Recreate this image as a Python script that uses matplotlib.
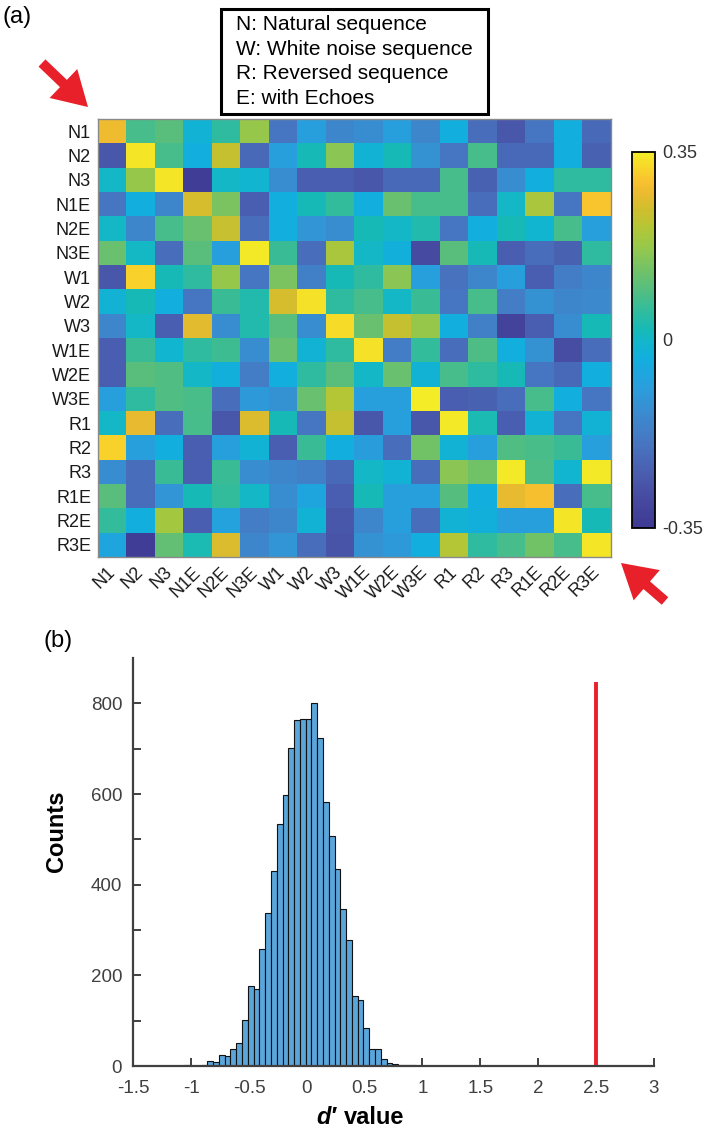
import numpy as np
import matplotlib
matplotlib.use("Agg")
import matplotlib.pyplot as plt
from matplotlib.colors import LinearSegmentedColormap
from matplotlib.patches import Rectangle, FancyArrow

plt.rcParams['font.family'] = ['Liberation Sans', 'DejaVu Sans']

# ---------------- data: correlation matrix (a) ----------------
labels = ["N1", "N2", "N3", "N1E", "N2E", "N3E", "W1", "W2", "W3",
          "W1E", "W2E", "W3E", "R1", "R2", "R3", "R1E", "R2E", "R3E"]

row_N1  = [0.28, 0.077, 0.10, -0.02, 0.05, 0.175, -0.19, -0.085, -0.15, -0.13, -0.085, -0.15, -0.035, -0.21, -0.26, -0.19, -0.035, -0.22]
row_N2  = [-0.26, 0.34, 0.077, -0.035, 0.23, -0.22, -0.085, 0.02, 0.16, -0.02, 0.02, -0.12, -0.19, 0.077, -0.22, -0.22, -0.035, -0.24]
row_N3  = [0.0, 0.175, 0.34, -0.335, 0.0, -0.01, -0.13, -0.245, -0.245, -0.26, -0.22, -0.22, 0.077, -0.24, -0.13, -0.035, 0.05, 0.05]
row_N1E = [-0.19, -0.035, -0.15, 0.25, 0.14, -0.245, -0.035, 0.02, 0.055, -0.035, 0.12, 0.077, 0.077, -0.21, 0.0, 0.196, -0.19, 0.30]
row_N2E = [0.0, -0.15, 0.077, 0.12, 0.235, -0.21, -0.035, -0.11, -0.13, 0.02, 0.0, 0.035, -0.19, -0.035, 0.02, -0.01, 0.077, -0.085]
row_N3E = [0.12, 0.005, -0.21, 0.10, -0.085, 0.345, 0.063, -0.21, 0.196, 0.0, -0.03, -0.295, 0.10, 0.02, -0.245, -0.21, -0.24, 0.05]
row_W1  = [-0.26, 0.315, 0.02, 0.05, 0.175, -0.19, 0.14, -0.165, 0.02, 0.05, 0.16, -0.085, -0.2, -0.15, -0.085, -0.245, -0.17, -0.15]
row_W2  = [-0.02, 0.02, -0.035, -0.19, 0.063, 0.035, 0.25, 0.335, 0.05, 0.077, 0.0, 0.063, -0.19, 0.077, -0.17, -0.12, -0.15, -0.14]
row_W3  = [-0.15, 0.0, -0.245, 0.265, -0.13, 0.035, 0.10, -0.13, 0.33, 0.12, 0.23, 0.175, -0.035, -0.165, -0.315, -0.245, -0.13, 0.02]
row_W1E = [-0.245, 0.063, -0.01, 0.05, 0.07, -0.13, 0.12, -0.02, 0.05, 0.335, -0.17, 0.055, -0.21, 0.085, -0.035, -0.12, -0.285, -0.21]
row_W2E = [-0.245, 0.10, 0.09, 0.0, -0.03, -0.17, -0.035, 0.05, 0.10, 0.0, 0.12, -0.02, 0.077, 0.05, 0.02, -0.19, -0.22, -0.035]
row_W3E = [-0.085, 0.05, 0.09, 0.08, -0.21, -0.1, -0.12, 0.12, 0.21, -0.085, -0.085, 0.35, -0.245, -0.24, -0.21, 0.077, -0.035, -0.19]
row_R1  = [0.0, 0.27, -0.21, 0.077, -0.26, 0.255, 0.02, -0.19, 0.23, -0.26, -0.085, -0.26, 0.345, 0.025, -0.245, -0.02, -0.19, -0.02]
row_R2  = [0.315, -0.085, -0.035, -0.245, -0.085, -0.02, -0.245, 0.063, -0.035, -0.09, -0.21, 0.13, -0.02, -0.085, 0.09, 0.08, 0.063, -0.085]
row_R3  = [-0.13, -0.21, 0.065, -0.245, 0.065, -0.13, -0.15, -0.165, -0.22, 0.0, -0.02, -0.21, 0.16, 0.13, 0.345, 0.085, -0.01, 0.345]
row_R1E = [0.10, -0.21, -0.11, 0.02, 0.055, 0.0, -0.13, -0.065, -0.245, 0.02, -0.085, -0.085, 0.095, -0.035, 0.27, 0.29, -0.21, 0.077]
row_R2E = [0.055, -0.035, 0.19, -0.245, -0.075, -0.17, -0.15, -0.02, -0.26, -0.15, -0.085, -0.21, -0.02, -0.03, -0.085, -0.085, 0.34, 0.02]
row_R3E = [-0.065, -0.335, 0.11, 0.025, 0.255, -0.15, -0.11, -0.21, -0.27, -0.12, -0.1, -0.035, 0.21, 0.05, 0.077, 0.13, 0.077, 0.34]

legend_lines = ["N: Natural sequence", "W: White noise sequence",
                "R: Reversed sequence", "E: with Echoes"]
cbar_ticks = [-0.35, 0, 0.35]
cbar_ticklabels = ["-0.35", "0", "0.35"]

# ---------------- data: histogram (b) ----------------
bin_start = -1.21
bin_width = 0.05
counts = [1, 1, 1, 2, 1, 1, 2, 12, 10, 25, 22, 39, 52, 101, 177, 170, 259, 337,
          431, 533, 598, 702, 764, 765, 766, 800, 724, 582, 508, 435, 347, 278,
          155, 147, 84, 37, 37, 15, 8, 4, 2, 2, 2, 1, 1, 1]
dprime_observed = 2.5
observed_line_top = 848
xtick_vals = [-1.5, -1, -0.5, 0, 0.5, 1, 1.5, 2, 2.5, 3]
xtick_labels = ["-1.5", "-1", "-0.5", "0", "0.5", "1", "1.5", "2", "2.5", "3"]
ytick_major = [0, 200, 400, 600, 800]
ytick_minor = [100, 300, 500, 700]

# ---------------- colormap (parula-like, as printed) ----------------
cmap_pts = [(0.00, "#3E3994"), (0.07, "#46489F"), (0.14, "#4A5CAE"), (0.22, "#4874C0"),
            (0.30, "#3C8ACE"), (0.38, "#28A0DE"), (0.45, "#12AEDE"), (0.49, "#12B6CE"),
            (0.53, "#18BAB6"), (0.58, "#32BC9C"), (0.63, "#52BE82"), (0.69, "#74C266"),
            (0.75, "#98C84A"), (0.80, "#B4C636"), (0.85, "#D0BE2E"), (0.89, "#EABA30"),
            (0.92, "#F8C030"), (0.96, "#F8D62A"), (1.00, "#F4EC26")]
cmap = LinearSegmentedColormap.from_list("parula_print", cmap_pts, N=256)

W, H = 709, 1129
def fr(x0, y0, x1, y1):
    return [x0 / W, 1 - y1 / H, (x1 - x0) / W, (y1 - y0) / H]

fig = plt.figure(figsize=(W / 100, H / 100), dpi=100)

# ---------------- panel (a) heatmap ----------------
M = np.array([row_N1, row_N2, row_N3, row_N1E, row_N2E, row_N3E,
              row_W1, row_W2, row_W3, row_W1E, row_W2E, row_W3E,
              row_R1, row_R2, row_R3, row_R1E, row_R2E, row_R3E])

ax_h = fig.add_axes(fr(98, 119, 611, 557))
im = ax_h.imshow(M, cmap=cmap, vmin=-0.35, vmax=0.35, aspect='auto',
                 interpolation='nearest')
ax_h.set_xticks(range(len(labels)))
ax_h.set_yticks(range(len(labels)))
ax_h.set_yticklabels(labels, fontsize=13, color='#1a1a1a')
ax_h.set_xticklabels(labels, fontsize=13, color='#1a1a1a', rotation=45,
                     ha='right', va='center', rotation_mode='anchor')
ax_h.tick_params(axis='both', length=0)
ax_h.tick_params(axis='y', pad=5)
ax_h.tick_params(axis='x', pad=9)
for sp in ax_h.spines.values():
    sp.set_color('#8a8a8a')
    sp.set_linewidth(1.0)

cax = fig.add_axes(fr(632, 152, 655, 528))
cb = fig.colorbar(im, cax=cax, ticks=cbar_ticks)
cb.ax.set_yticklabels(cbar_ticklabels, fontsize=13, color='#333333')
cb.ax.tick_params(length=0, pad=5)
cb.outline.set_linewidth(1.3)
cb.outline.set_edgecolor('black')

# ---------------- panel (b) histogram ----------------
ax_b = fig.add_axes(fr(133.3, 658, 653.8, 1066.2))
edges = bin_start + bin_width * np.arange(len(counts) + 1)
ax_b.bar(edges[:-1], counts, width=bin_width, align='edge', color='#5AA5DA',
         edgecolor='#111111', linewidth=0.8, zorder=2)
ax_b.vlines(dprime_observed, 0, observed_line_top, color='#E8202A', linewidth=2.8, zorder=3)
ax_b.set_xlim(-1.5, 3)
ax_b.set_ylim(0, 900)
ax_b.set_xticks(xtick_vals)
ax_b.set_xticklabels(xtick_labels)
ax_b.set_yticks(ytick_major)
ax_b.set_yticks(ytick_minor, minor=True)
for s in ['top', 'right']:
    ax_b.spines[s].set_visible(False)
for s in ['left', 'bottom']:
    ax_b.spines[s].set_color('#404040')
    ax_b.spines[s].set_linewidth(1.6)
    ax_b.spines[s].set_zorder(4)
ax_b.tick_params(axis='both', which='both', direction='in', length=6, width=1.4,
                 color='#404040', labelcolor='#404040', labelsize=13.5)
ax_b.tick_params(axis='x', pad=10)
ax_b.tick_params(axis='y', pad=8)
ax_b.set_facecolor('none')

fig.text(57 / W, 1 - 831 / H, "Counts", rotation=90, fontsize=17, fontweight='bold',
         ha='center', va='center', color='black')
fig.text(316 / W, 1 - 1118 / H, "d\u2032", fontsize=17, fontweight='bold',
         fontstyle='italic', ha='left', va='center')
fig.text(344 / W, 1 - 1118 / H, "value", fontsize=17, fontweight='bold',
         ha='left', va='center')

# ---------------- overlay: panel letters, legend box, arrows ----------------
ov = fig.add_axes([0, 0, 1, 1], facecolor='none')
ov.set_xlim(0, W)
ov.set_ylim(H, 0)
ov.axis('off')

ov.text(17, 17, "(a)", fontsize=17, ha='center', va='center')
ov.text(58, 641, "(b)", fontsize=17, ha='center', va='center')

ov.add_patch(Rectangle((221, 9), 267, 105, fill=False, edgecolor='black', linewidth=2.2))
for i, line in enumerate(legend_lines):
    ov.text(236, 25 + 24.4 * i, line, fontsize=15, ha='left', va='center')

red = '#E8202A'
ov.add_patch(FancyArrow(42, 63, 46, 44, width=10, head_width=40, head_length=34,
                        length_includes_head=True, color=red, linewidth=0))
ov.add_patch(FancyArrow(665, 601, -44, -38, width=10, head_width=40, head_length=34,
                        length_includes_head=True, color=red, linewidth=0))

fig.savefig("out.png", dpi=100)
